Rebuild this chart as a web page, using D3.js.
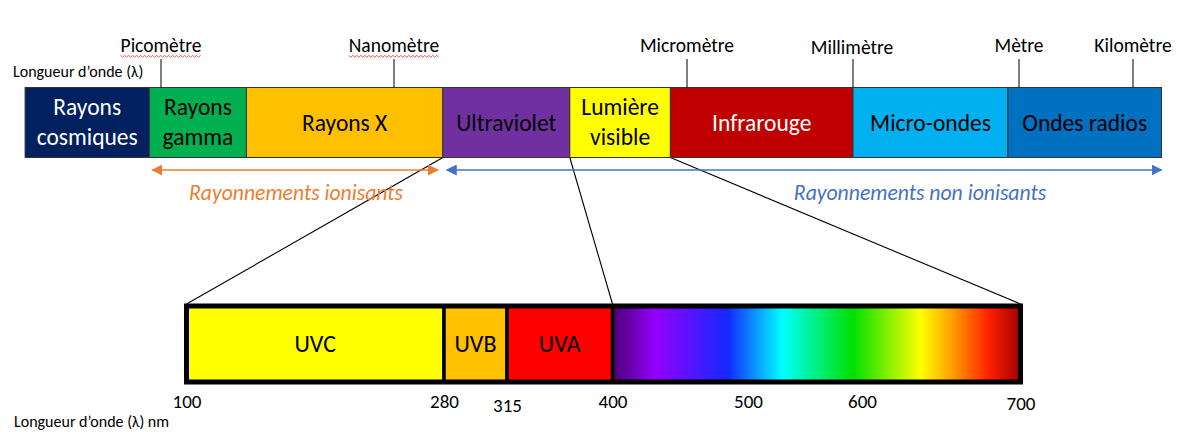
<!DOCTYPE html>
<html>
<head>
<meta charset="utf-8">
<script src="https://cdn.jsdelivr.net/npm/d3@7"></script>
<style>
  body { margin: 0; background: #fff; }
  svg text { font-family: Carlito, Lato, "Open Sans", sans-serif; }
</style>
</head>
<body>
<script>
// top spectrum, positions in log10(wavelength in m)
const bandNames = [["Rayons", "cosmiques"], ["Rayons", "gamma"], ["Rayons X"], ["Ultraviolet"],
  ["Lumière", "visible"], ["Infrarouge"], ["Micro-ondes"], ["Ondes radios"]];
const bandEdges = [-13.75, -12.15, -10.9, -8.5, -7.2, -6.17, -3, -0.2, 3.75];
const bandColors = ["#002060", "#00b050", "#ffc000", "#7030a0", "#ffff00", "#c00000", "#00b0f0", "#0070c0"];
const bandText = ["#fff", "#000", "#000", "#000", "#000", "#fff", "#000", "#000"];

const unitNames = ["Picomètre", "Nanomètre", "Micromètre", "Millimètre", "Mètre", "Kilomètre"];
const unitExp = [-12, -9, -6, -3, 0, 3];
const spellFlag = [true, true, false, false, false, false];

// zoom on UV, in nm
const uvNames = ["UVC", "UVB", "UVA"];
const uvEdges = [100, 280, 315, 400];
const uvColors = ["#ffff00", "#ffc000", "#ff0000"];
const nmTicks = [100, 280, 315, 400, 500, 600, 700];
const specNm = [400, 432, 485, 530, 592, 637, 658, 680, 700];
const specColors = ["#4b0070", "#9400ff", "#1428ff", "#00ffff", "#00e000", "#ffff00", "#ff9800", "#ff2000", "#a00000"];

const width = 1179, height = 432;
const svg = d3.select("body").append("svg").attr("width", width).attr("height", height);

const xTop = d3.scaleLinear().domain(unitExp).range([161, 394, 687, 853, 1019, 1133]);
const xNm = d3.scaleLinear().domain(nmTicks).range([186.5, 444, 507, 612.5, 748, 862, 1020.5]);

const barTop = 87.5, barH = 70;
const bandFs = 23.5;

// zoom lines
const zoomLines = [[xTop(bandEdges[3]), xNm(100)], [xTop(bandEdges[4]), xNm(400)], [xTop(bandEdges[5]), xNm(700)]];
svg.selectAll(".zl").data(zoomLines).enter().append("line")
  .attr("x1", d => d[0]).attr("y1", barTop + barH)
  .attr("x2", d => d[1]).attr("y2", 304)
  .attr("stroke", "#000").attr("stroke-width", 1.1);

// top bands
const bands = svg.selectAll(".band").data(bandNames).enter().append("g");
bands.append("rect")
  .attr("x", (d, i) => xTop(bandEdges[i]))
  .attr("y", barTop)
  .attr("width", (d, i) => xTop(bandEdges[i + 1]) - xTop(bandEdges[i]))
  .attr("height", barH)
  .attr("fill", (d, i) => bandColors[i])
  .attr("stroke", "#333").attr("stroke-width", 1);
bands.append("text")
  .attr("text-anchor", "middle")
  .attr("font-size", bandFs)
  .attr("fill", (d, i) => bandText[i])
  .each(function (d, i) {
    const cx = (xTop(bandEdges[i]) + xTop(bandEdges[i + 1])) / 2;
    const t = d3.select(this);
    d.forEach((line, j) => {
      const cy = d.length == 1 ? 122.5 : 107 + j * 29.5;
      t.append("tspan").attr("x", cx).attr("y", cy + bandFs * 0.35).text(line);
    });
  });

// unit ticks
svg.selectAll(".utick").data(unitExp).enter().append("line")
  .attr("x1", d => xTop(d)).attr("x2", d => xTop(d))
  .attr("y1", 59).attr("y2", barTop)
  .attr("stroke", "#000").attr("stroke-width", 1);
svg.selectAll(".ulab").data(unitNames).enter().append("text")
  .attr("x", (d, i) => xTop(unitExp[i]) + (i == 3 ? -1 : 0))
  .attr("y", (d, i) => (i == 3 ? 54 : 52))
  .attr("text-anchor", "middle")
  .attr("font-size", 19.5)
  .text(d => d)
  .each(function (d, i) {
    if (!spellFlag[i]) return;
    const b = this.getBBox();
    const pts = d3.range(b.x, b.x + b.width, 2).map((x, k) => [x, 56 + (k % 2 ? 1.2 : -0.6)]);
    svg.append("path").attr("d", d3.line()(pts)).attr("fill", "none")
      .attr("stroke", "#e03030").attr("stroke-width", 0.8);
  });

svg.append("text").attr("x", 13).attr("y", 77).attr("font-size", 16).text("Longueur d’onde (λ)");

// arrows
const defs = svg.append("defs");
function marker(id, color, orient) {
  defs.append("marker").attr("id", id).attr("viewBox", "0 0 10 10")
    .attr("refX", 9).attr("refY", 5).attr("markerWidth", 11).attr("markerHeight", 11)
    .attr("markerUnits", "userSpaceOnUse").attr("orient", orient)
    .append("path").attr("d", "M0,0L10,5L0,10Z").attr("fill", color);
}
marker("ao", "#ed7d31", "auto-start-reverse");
marker("ab", "#4472c4", "auto-start-reverse");
const arrows = [
  { x1: xTop(bandEdges[1]) + 3, x2: xTop(bandEdges[3]) - 5, color: "#ed7d31", id: "ao",
    label: "Rayonnements ionisants", lx: 296, ly: 200 },
  { x1: xTop(bandEdges[3]) + 4, x2: xTop(bandEdges[8]), color: "#4472c4", id: "ab",
    label: "Rayonnements non ionisants", lx: 920, ly: 200 }
];
arrows.forEach(a => {
  svg.append("line").attr("x1", a.x1).attr("x2", a.x2).attr("y1", 170).attr("y2", 170)
    .attr("stroke", a.color).attr("stroke-width", 1.5)
    .attr("marker-start", `url(#${a.id})`).attr("marker-end", `url(#${a.id})`);
  svg.append("text").attr("x", a.lx).attr("y", a.ly).attr("text-anchor", "middle")
    .attr("font-size", 21.7).attr("font-style", "italic").attr("fill", a.color).text(a.label);
});

// spectrum gradient
const grad = defs.append("linearGradient").attr("id", "spec")
  .attr("gradientUnits", "userSpaceOnUse")
  .attr("x1", xNm(400)).attr("x2", xNm(700)).attr("y1", 0).attr("y2", 0);
grad.selectAll("stop").data(specNm).enter().append("stop")
  .attr("offset", d => (xNm(d) - xNm(400)) / (xNm(700) - xNm(400)))
  .attr("stop-color", (d, i) => specColors[i]);

const uvTop = 306, uvH = 76;
svg.append("rect").attr("x", xNm(400)).attr("y", uvTop)
  .attr("width", xNm(700) - xNm(400)).attr("height", uvH).attr("fill", "url(#spec)");
svg.selectAll(".uv").data(uvNames).enter().append("rect")
  .attr("x", (d, i) => xNm(uvEdges[i])).attr("y", uvTop)
  .attr("width", (d, i) => xNm(uvEdges[i + 1]) - xNm(uvEdges[i])).attr("height", uvH)
  .attr("fill", (d, i) => uvColors[i]).attr("stroke", "#000").attr("stroke-width", 3.5);
svg.append("rect").attr("x", xNm(100)).attr("y", uvTop)
  .attr("width", xNm(700) - xNm(100)).attr("height", uvH)
  .attr("fill", "none").attr("stroke", "#000").attr("stroke-width", 5);
svg.selectAll(".uvl").data(uvNames).enter().append("text")
  .attr("x", (d, i) => (xNm(uvEdges[i]) + xNm(uvEdges[i + 1])) / 2)
  .attr("y", 352).attr("text-anchor", "middle").attr("font-size", 24).text(d => d);

// nm axis
const axis = svg.append("g").attr("transform", "translate(0,388)")
  .call(d3.axisBottom(xNm).tickValues(nmTicks).tickSize(0).tickPadding(7).tickFormat(d3.format("d")));
axis.select(".domain").remove();
axis.selectAll("text").attr("font-size", 19).attr("fill", "#000")
  .style("font-family", "Carlito, Lato, 'Open Sans', sans-serif");
axis.selectAll(".tick").filter(d => d == 315).select("text").attr("y", 11);
axis.selectAll(".tick").filter(d => d == 700).select("text").attr("y", 9);

svg.append("text").attr("x", 14).attr("y", 427).attr("font-size", 16).text("Longueur d’onde (λ) nm");
</script>
</body>
</html>
